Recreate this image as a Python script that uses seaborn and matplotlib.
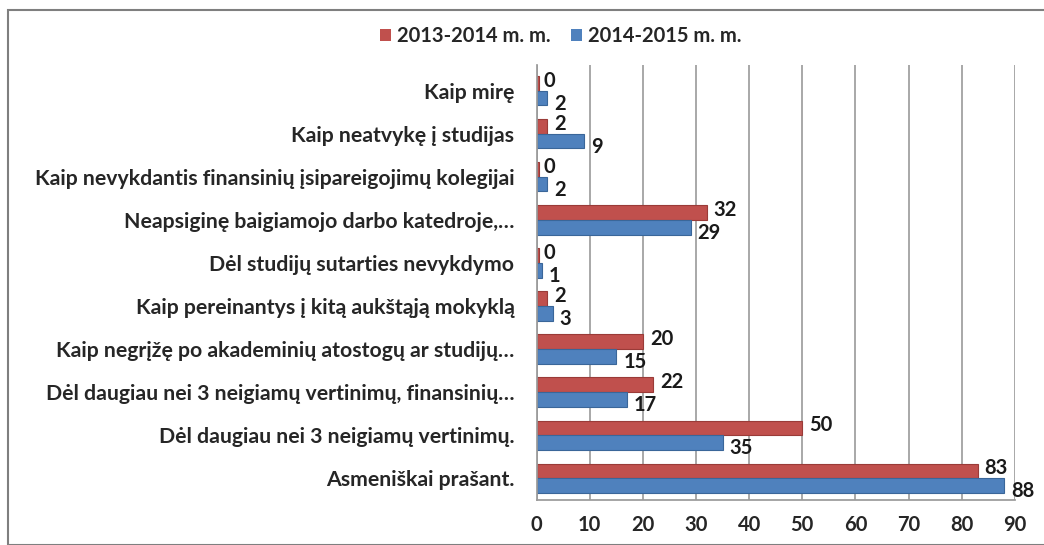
import matplotlib
matplotlib.use("Agg")
import matplotlib.pyplot as plt
import seaborn as sns
import pandas as pd
from matplotlib.patches import Rectangle

categories = [
    "Kaip mirę",
    "Kaip neatvykę į studijas",
    "Kaip nevykdantis finansinių įsipareigojimų kolegijai",
    "Neapsiginę baigiamojo darbo katedroje,…",
    "Dėl studijų sutarties nevykdymo",
    "Kaip pereinantys į kitą aukštąją mokyklą",
    "Kaip negrįžę po akademinių atostogų ar studijų…",
    "Dėl daugiau nei 3 neigiamų vertinimų, finansinių…",
    "Dėl daugiau nei 3 neigiamų vertinimų.",
    "Asmeniškai prašant.",
]
series_names = ["2013-2014 m. m.", "2014-2015 m. m."]
values_2013 = [0, 2, 0, 32, 0, 2, 20, 22, 50, 83]
values_2014 = [2, 9, 2, 29, 1, 3, 15, 17, 35, 88]
x_ticks = [0, 10, 20, 30, 40, 50, 60, 70, 80, 90]

colors = ["#C0504D", "#4F81BD"]
edges = ["#9A3B38", "#3A6699"]

df = pd.DataFrame({
    "cat": categories * 2,
    "val": values_2013 + values_2014,
    "series": [series_names[0]] * len(categories) + [series_names[1]] * len(categories),
})

sns.set_theme(style="white")
plt.rcParams["font.family"] = ["Lato", "DejaVu Sans"]
plt.rcParams["font.weight"] = "bold"

FS = 14.5
FS_Y = 15.3

fig = plt.figure(figsize=(10.44, 5.45), dpi=100)
ax = fig.add_axes([0.514, 0.083, 0.458, 0.798])

sns.barplot(data=df, y="cat", x="val", hue="series", orient="h",
            palette=colors, width=0.68, ax=ax, legend=True,
            edgecolor="none", saturation=1)

# labels
for container, dy, dx, ec in zip(ax.containers, [2, -4], [5, 5], edges):
    for bar, v in zip(container, container.datavalues):
        y = bar.get_y() + bar.get_height() / 2
        ax.annotate(f"{int(v)}", (bar.get_width(), y), xytext=(dx, dy),
                    textcoords="offset points", va="center", ha="left",
                    fontsize=FS, fontweight="bold", color="#1a1a1a",
                    annotation_clip=False)
    for bar in container:
        bar.set_edgecolor(ec)
        bar.set_linewidth(0.8)
        if bar.get_width() == 0:
            bar.set_width(0.4)

ax.set_xlim(0, 90)
ax.set_xticks(x_ticks)
ax.set_xticklabels([str(t) for t in x_ticks], fontsize=FS, fontweight="bold")
ax.tick_params(axis="y", labelsize=FS_Y, length=0, pad=16)
for lbl in ax.get_yticklabels():
    lbl.set_fontweight("bold")
ax.set_xlabel("")
ax.set_ylabel("")
ax.xaxis.grid(True, color="#9a9a9a", linewidth=1.2)
ax.set_axisbelow(True)
for s in ["top", "right"]:
    ax.spines[s].set_visible(False)
ax.spines["left"].set_color("#9a9a9a")
ax.spines["bottom"].set_color("#9a9a9a")
ax.tick_params(axis="x", length=5, color="#9a9a9a", direction="out", pad=6)
ax.set_ylim(len(categories) - 0.5, -0.6)

# minor y ticks between categories
ax.set_yticks([i + 0.5 for i in range(-1, len(categories))], minor=True)
ax.tick_params(axis="y", which="minor", length=5, color="#9a9a9a")

leg = ax.legend(loc="upper center", bbox_to_anchor=(0.05, 1.13), ncol=2,
                frameon=False, fontsize=FS, handlelength=0.55, handleheight=0.55,
                columnspacing=1.0, handletextpad=0.3)
for t in leg.get_texts():
    t.set_fontweight("bold")

fig.patches.append(Rectangle((8 / 1044, 0), 1.0, 1 - 10 / 545, transform=fig.transFigure,
                             fill=False, edgecolor="#7f7f7f", linewidth=1.5))

fig.savefig("out.png", dpi=100)
